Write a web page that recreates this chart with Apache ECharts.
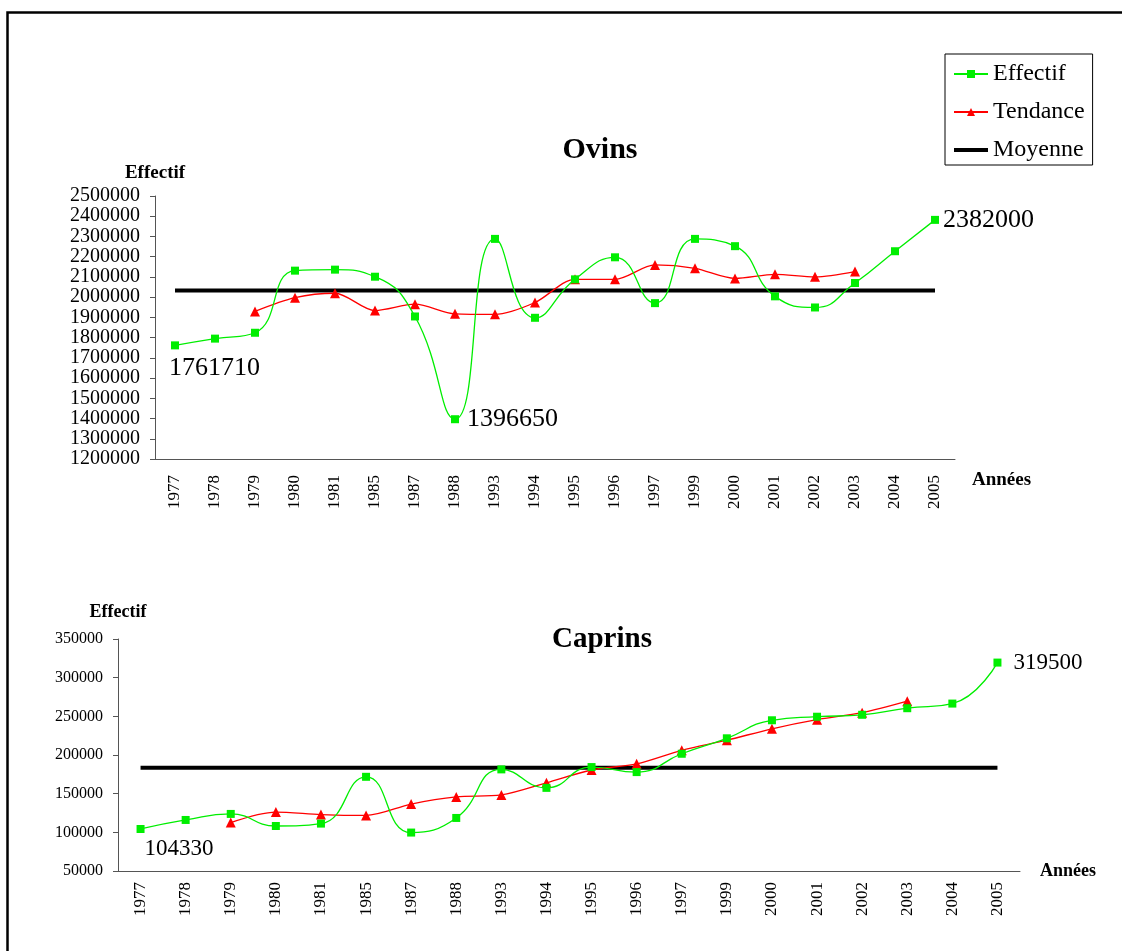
<!DOCTYPE html>
<html>
<head>
<meta charset="utf-8">
<title>Ovins et Caprins</title>
<script src="https://cdn.jsdelivr.net/npm/echarts@6/dist/echarts.min.js"></script>
<style>
  html, body { margin: 0; padding: 0; background: #fff; }
  #chart { width: 1122px; height: 951px; }
</style>
</head>
<body>
<div id="chart"></div>
<script>
// Années de recensement
const annees = ['1977','1978','1979','1980','1981','1985','1987','1988','1993','1994',
                '1995','1996','1997','1999','2000','2001','2002','2003','2004','2005'];

// Ovins
const ovinsEffectif = [1761710,1795000,1824000,2131000,2136000,2101000,1904500,1396650,2288000,1898000,
                       2088000,2197000,1970500,2288000,2252000,2004000,1949000,2070000,2227000,2382000];
const ovinsTendance = [null,null,1929500,1997400,2019300,1933800,1965200,1917600,1915000,1973500,
                       2088300,2088300,2159100,2142300,2092700,2112600,2100400,2126400,null,null];
const ovinsMoyenne = 2033000;

// Caprins
const caprinsEffectif = [104330,116000,123800,108200,111300,171800,99700,118600,181400,157500,
                         184400,177900,201600,221600,244900,249500,252000,260500,266500,319500];
const caprinsTendance = [null,null,112700,126200,123000,121900,136600,145800,148300,164000,
                         180600,188600,206100,219100,233900,245700,254700,269600,null,null];
const caprinsMoyenne = 183600;

// Graduations des axes
const ovinsAxe = { min: 1200000, max: 2500000, interval: 100000 };
const caprinsAxe = { min: 50000, max: 350000, interval: 50000 };

const SERIF = "'Liberation Serif', 'Times New Roman', serif";
const GREEN = '#00ee00';
const RED = '#ff0000';
const AXIS_COLOR = '#555';

// Étiquettes de valeurs : index du point -> placement
function withLabels(values, labels) {
  return values.map((v, i) => {
    const cfg = labels[i];
    if (!cfg) return v;
    return { value: v, label: Object.assign({ show: true, formatter: p => String(p.value),
      fontFamily: SERIF, color: '#000' }, cfg) };
  });
}

const chart = echarts.init(document.getElementById('chart'), null, { renderer: 'canvas' });

function xAxis(gridIndex, labelMargin, nameCfg) {
  return Object.assign({
    type: 'category', gridIndex, data: annees, boundaryGap: true,
    axisLine: { lineStyle: { color: AXIS_COLOR, width: 1 } },
    axisTick: { length: 5, lineStyle: { color: AXIS_COLOR } },
    axisLabel: { rotate: 90, interval: 0, margin: labelMargin, color: '#000',
                 fontFamily: SERIF, fontSize: 17 },
    splitLine: { show: false }
  }, nameCfg);
}

function yAxis(gridIndex, axe, fontSize, nameGap, nameSize) {
  return {
    type: 'value', gridIndex, min: axe.min, max: axe.max, interval: axe.interval,
    name: 'Effectif', nameLocation: 'end', nameGap,
    nameTextStyle: { fontFamily: SERIF, fontWeight: 'bold', fontSize: nameSize, color: '#000' },
    axisLine: { show: true, lineStyle: { color: AXIS_COLOR, width: 1 } },
    axisTick: { show: true, length: 5, lineStyle: { color: AXIS_COLOR } },
    axisLabel: { margin: 15, color: '#000', fontFamily: SERIF, fontSize,
                 formatter: v => String(v) },
    splitLine: { show: false }
  };
}

function seriesFor(idx, effectif, tendance, moyenne, labels, labelSize) {
  const lab = {};
  Object.keys(labels).forEach(k => { lab[k] = Object.assign({ fontSize: labelSize }, labels[k]); });
  return [
    {
      name: 'Moyenne', type: 'line', xAxisIndex: idx, yAxisIndex: idx,
      data: [[annees[0], moyenne], [annees[annees.length - 1], moyenne]],
      symbol: 'none', lineStyle: { color: '#000', width: 4 }, itemStyle: { color: '#000' },
      z: 2, silent: true
    },
    {
      name: 'Tendance', type: 'line', xAxisIndex: idx, yAxisIndex: idx,
      data: tendance, smooth: 0.3, symbol: 'triangle', symbolSize: 10,
      lineStyle: { color: RED, width: 1.3 }, itemStyle: { color: RED },
      z: 3
    },
    {
      name: 'Effectif', type: 'line', xAxisIndex: idx, yAxisIndex: idx,
      data: withLabels(effectif, lab), smooth: 0.5, symbol: 'rect', symbolSize: 8,
      lineStyle: { color: GREEN, width: 1.3 }, itemStyle: { color: GREEN },
      z: 4
    }
  ];
}

const option = {
  backgroundColor: '#fff',
  animation: false,
  title: [
    { text: 'Ovins', left: 595, top: 130, textAlign: 'center',
      textStyle: { fontFamily: SERIF, fontWeight: 'bold', fontSize: 30, color: '#000' } },
    { text: 'Caprins', left: 597, top: 620, textAlign: 'center',
      textStyle: { fontFamily: SERIF, fontWeight: 'bold', fontSize: 29, color: '#000' } }
  ],
  legend: {
    data: ['Effectif', 'Tendance',
           { name: 'Moyenne', icon: 'path://M0,0 L34,0 L34,4 L0,4 Z' }],
    orient: 'vertical', left: 945, top: 54,
    padding: [8, 8, 3, 8], itemGap: 14,
    itemWidth: 34, itemHeight: 10,
    borderColor: '#000', borderWidth: 1,
    textStyle: { fontFamily: SERIF, fontSize: 24, color: '#000' }
  },
  grid: [
    { left: 155, top: 196, width: 800, height: 263 },
    { left: 118, top: 639, width: 902, height: 232 }
  ],
  xAxis: [
    xAxis(0, 16, { name: 'Années', nameLocation: 'end', nameGap: 17,
      nameTextStyle: { fontFamily: SERIF, fontWeight: 'bold', fontSize: 19, color: '#000',
                       verticalAlign: 'top', padding: [12, 0, 0, 0] } }),
    xAxis(1, 11, { name: 'Années', nameLocation: 'end', nameGap: 20,
      nameTextStyle: { fontFamily: SERIF, fontWeight: 'bold', fontSize: 18, color: '#000' } })
  ],
  yAxis: [
    yAxis(0, ovinsAxe, 20, 13, 19),
    yAxis(1, caprinsAxe, 16, 18, 18)
  ],
  series: [].concat(
    seriesFor(0, ovinsEffectif, ovinsTendance, ovinsMoyenne, {
      0:  { position: [-2, 27], align: 'left', verticalAlign: 'middle' },
      7:  { position: 'right', distance: 8 },
      19: { position: 'right', distance: 4 }
    }, 26),
    seriesFor(1, caprinsEffectif, caprinsTendance, caprinsMoyenne, {
      0:  { position: [8, 24], align: 'left', verticalAlign: 'middle' },
      19: { position: 'right', distance: 12 }
    }, 23)
  ),
  graphic: [
    { type: 'rect', shape: { x: 7.5, y: 12.5, width: 1400, height: 1200 },
      style: { fill: 'none', stroke: '#000', lineWidth: 2.5 }, silent: true, z: 100 }
  ]
};

chart.setOption(option);
</script>
</body>
</html>
